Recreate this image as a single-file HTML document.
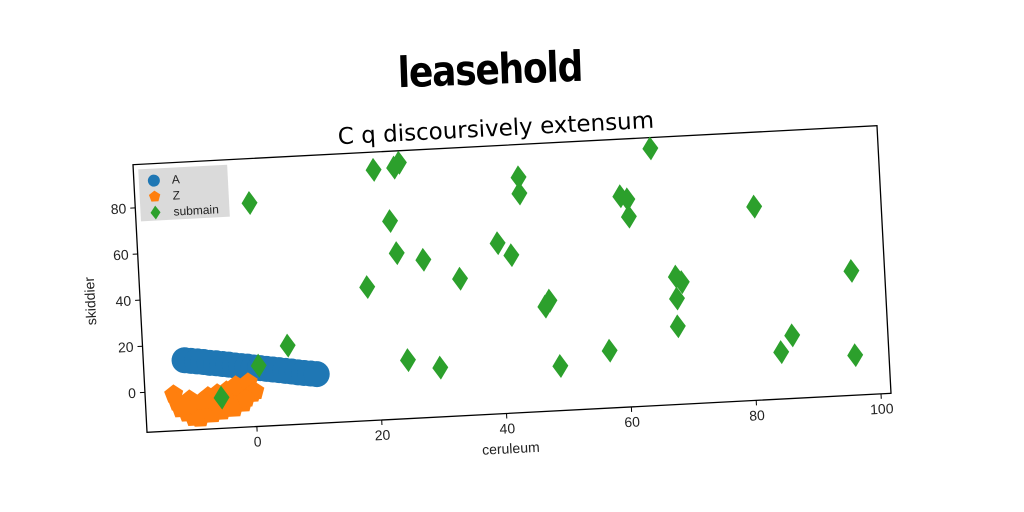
<!DOCTYPE html>
<html><head><meta charset="utf-8"><style>
body{margin:0;background:#fff;}
svg{display:block;font-family:"Liberation Sans","DejaVu Sans",sans-serif;}
</style></head><body>
<svg width="1024" height="512" viewBox="0 0 1024 512">
<text x="490" y="80" font-size="40" font-weight="bold" text-anchor="middle" transform="rotate(-2 490 72) scale(1 1.05)" style="font-family:'DejaVu Sans Condensed','Liberation Sans Narrow',sans-serif;font-weight:900;letter-spacing:-1.2px">leasehold</text>
<text x="496" y="136" font-size="23" text-anchor="middle" transform="rotate(-3 496 130)" style="font-family:'DejaVu Sans',sans-serif">C q discoursively extensum</text>
<g id="plot" transform="rotate(-3 512 279)"></g>
</svg>
<script>
const xTicks=[0,20,40,60,80,100];
const yTicks=[0,20,40,60,80];
const seriesA_x=[-11,-10,-9,-8,-7,-6,-5,-4,-3,-2,-1,0,1,2,3,4,5,6,7,8,9,10];
const seriesA_y=[13,12.6,12.2,11.8,11.3,11,10.5,10.1,9.6,9.2,8.8,8.3,7.9,7.4,7,6.6,6.1,5.7,5.2,4.8,4.4,4];
const seriesZ_x=[-13,-12.5,-12,-11,-10.5,-10,-9.5,-9,-8,-7.5,-7,-6.5,-6,-5,-4.5,-4,-3,-2.5,-2,-1,-0.5,0,-11.5,-8.5,-5.5,-3.5,-1.5];
const seriesZ_y=[-1.5,-5,-8,-10,-4,-12,-7,-12.5,-9,-3,-11,-6,-2,-8,-1,-5,1,0,-7,2,-3,-2,-7,-5,-10,-9,-5];
const seriesS_x=[0.7,20.8,24.1,24.9,23,23.8,28,18.8,33.7,40,42.1,43.9,43.9,47.1,47.8,5.6,0.8,-5.4,24.7,29.8,49,57,60,61.1,61.2,65.2,68.2,69.1,68.2,68.1,81.3,84.4,86.3,96.3,96.2];
const seriesS_y=[79.5,91,91.5,93.5,68.5,54.5,51,40.5,42,56.5,51,84.5,77.5,28,30.5,17,9,-4,8,4,2,7.5,74,72.5,65,94,38,35.5,28.5,16.5,66.5,3,10,36.5,0];
const NS='http://www.w3.org/2000/svg';
const g=document.getElementById('plot');
const L=139.5,T=145,W=745,H=268,X0=-17.6,X1=101.6,Y0=-17.3,Y1=98.7;
const sx=v=>L+(v-X0)/(X1-X0)*W, sy=v=>T+H-(v-Y0)/(Y1-Y0)*H;
function el(t,a,p){const e=document.createElementNS(NS,t);for(const k in a)e.setAttribute(k,a[k]);(p||g).appendChild(e);return e;}
const frame=el('rect',{x:L,y:T,width:W,height:H,fill:'#fff',stroke:'#000','stroke-width':1.3});


xTicks.forEach(v=>{const x=sx(v);el('line',{x1:x,x2:x,y1:T+H,y2:T+H+5,stroke:'#000'});
 const t=el('text',{x:x,y:T+H+20,'font-size':14,'text-anchor':'middle',fill:'#222'});t.textContent=v;
 
 });
yTicks.forEach(v=>{const y=sy(v);el('line',{x1:L-5,x2:L,y1:y,y2:y,stroke:'#000'});
 const t=el('text',{x:L-9,y:y+5,'font-size':14,'text-anchor':'end',fill:'#222'});t.textContent=v;
 
 });
const xl=el('text',{x:L+W/2-10,y:T+H+40,'font-size':14,'text-anchor':'middle',fill:'#222'});xl.textContent='ceruleum';


const yl=el('text',{x:L-45,y:T+H/2,'font-size':14,'text-anchor':'middle',fill:'#222',transform:`rotate(-90 ${L-45} ${T+H/2})`});yl.textContent='skiddier';


seriesA_x.forEach((v,i)=>{const c=el('circle',{cx:sx(v),cy:sy(seriesA_y[i]),r:13,fill:'#1f77b4'});
 
 });
function pent(cx,cy,r){let p=[];for(let k=0;k<5;k++){const a=-Math.PI/2+k*2*Math.PI/5;p.push((cx+r*Math.cos(a)).toFixed(1)+','+(cy+r*Math.sin(a)).toFixed(1));}return p.join(' ');}
seriesZ_x.forEach((v,i)=>{const c=el('polygon',{points:pent(sx(v),sy(seriesZ_y[i]),10),fill:'#ff7f0e'});
 
 });
function dia(cx,cy,w,h){return `${cx},${cy-h} ${cx+w},${cy} ${cx},${cy+h} ${cx-w},${cy}`;}
seriesS_x.forEach((v,i)=>{const c=el('polygon',{points:dia(sx(v),sy(seriesS_y[i]),8,12),fill:'#2ca02c'});
 
 });
const lg=el('g',{});


el('rect',{x:L+5,y:T+5,width:89,height:52,fill:'#d6d6d6',opacity:0.9},lg);
el('circle',{cx:L+20,cy:T+17,r:6,fill:'#1f77b4'},lg);
el('polygon',{points:pent(L+20,T+33,6),fill:'#ff7f0e'},lg);
el('polygon',{points:dia(L+20,T+49,5,7),fill:'#2ca02c'},lg);
[['A',17],['Z',33],['submain',49]].forEach(([s,dy])=>{const t=el('text',{x:L+38,y:T+dy+4,'font-size':12,fill:'#222'},lg);t.textContent=s;
 
 });
</script>
</body></html>
